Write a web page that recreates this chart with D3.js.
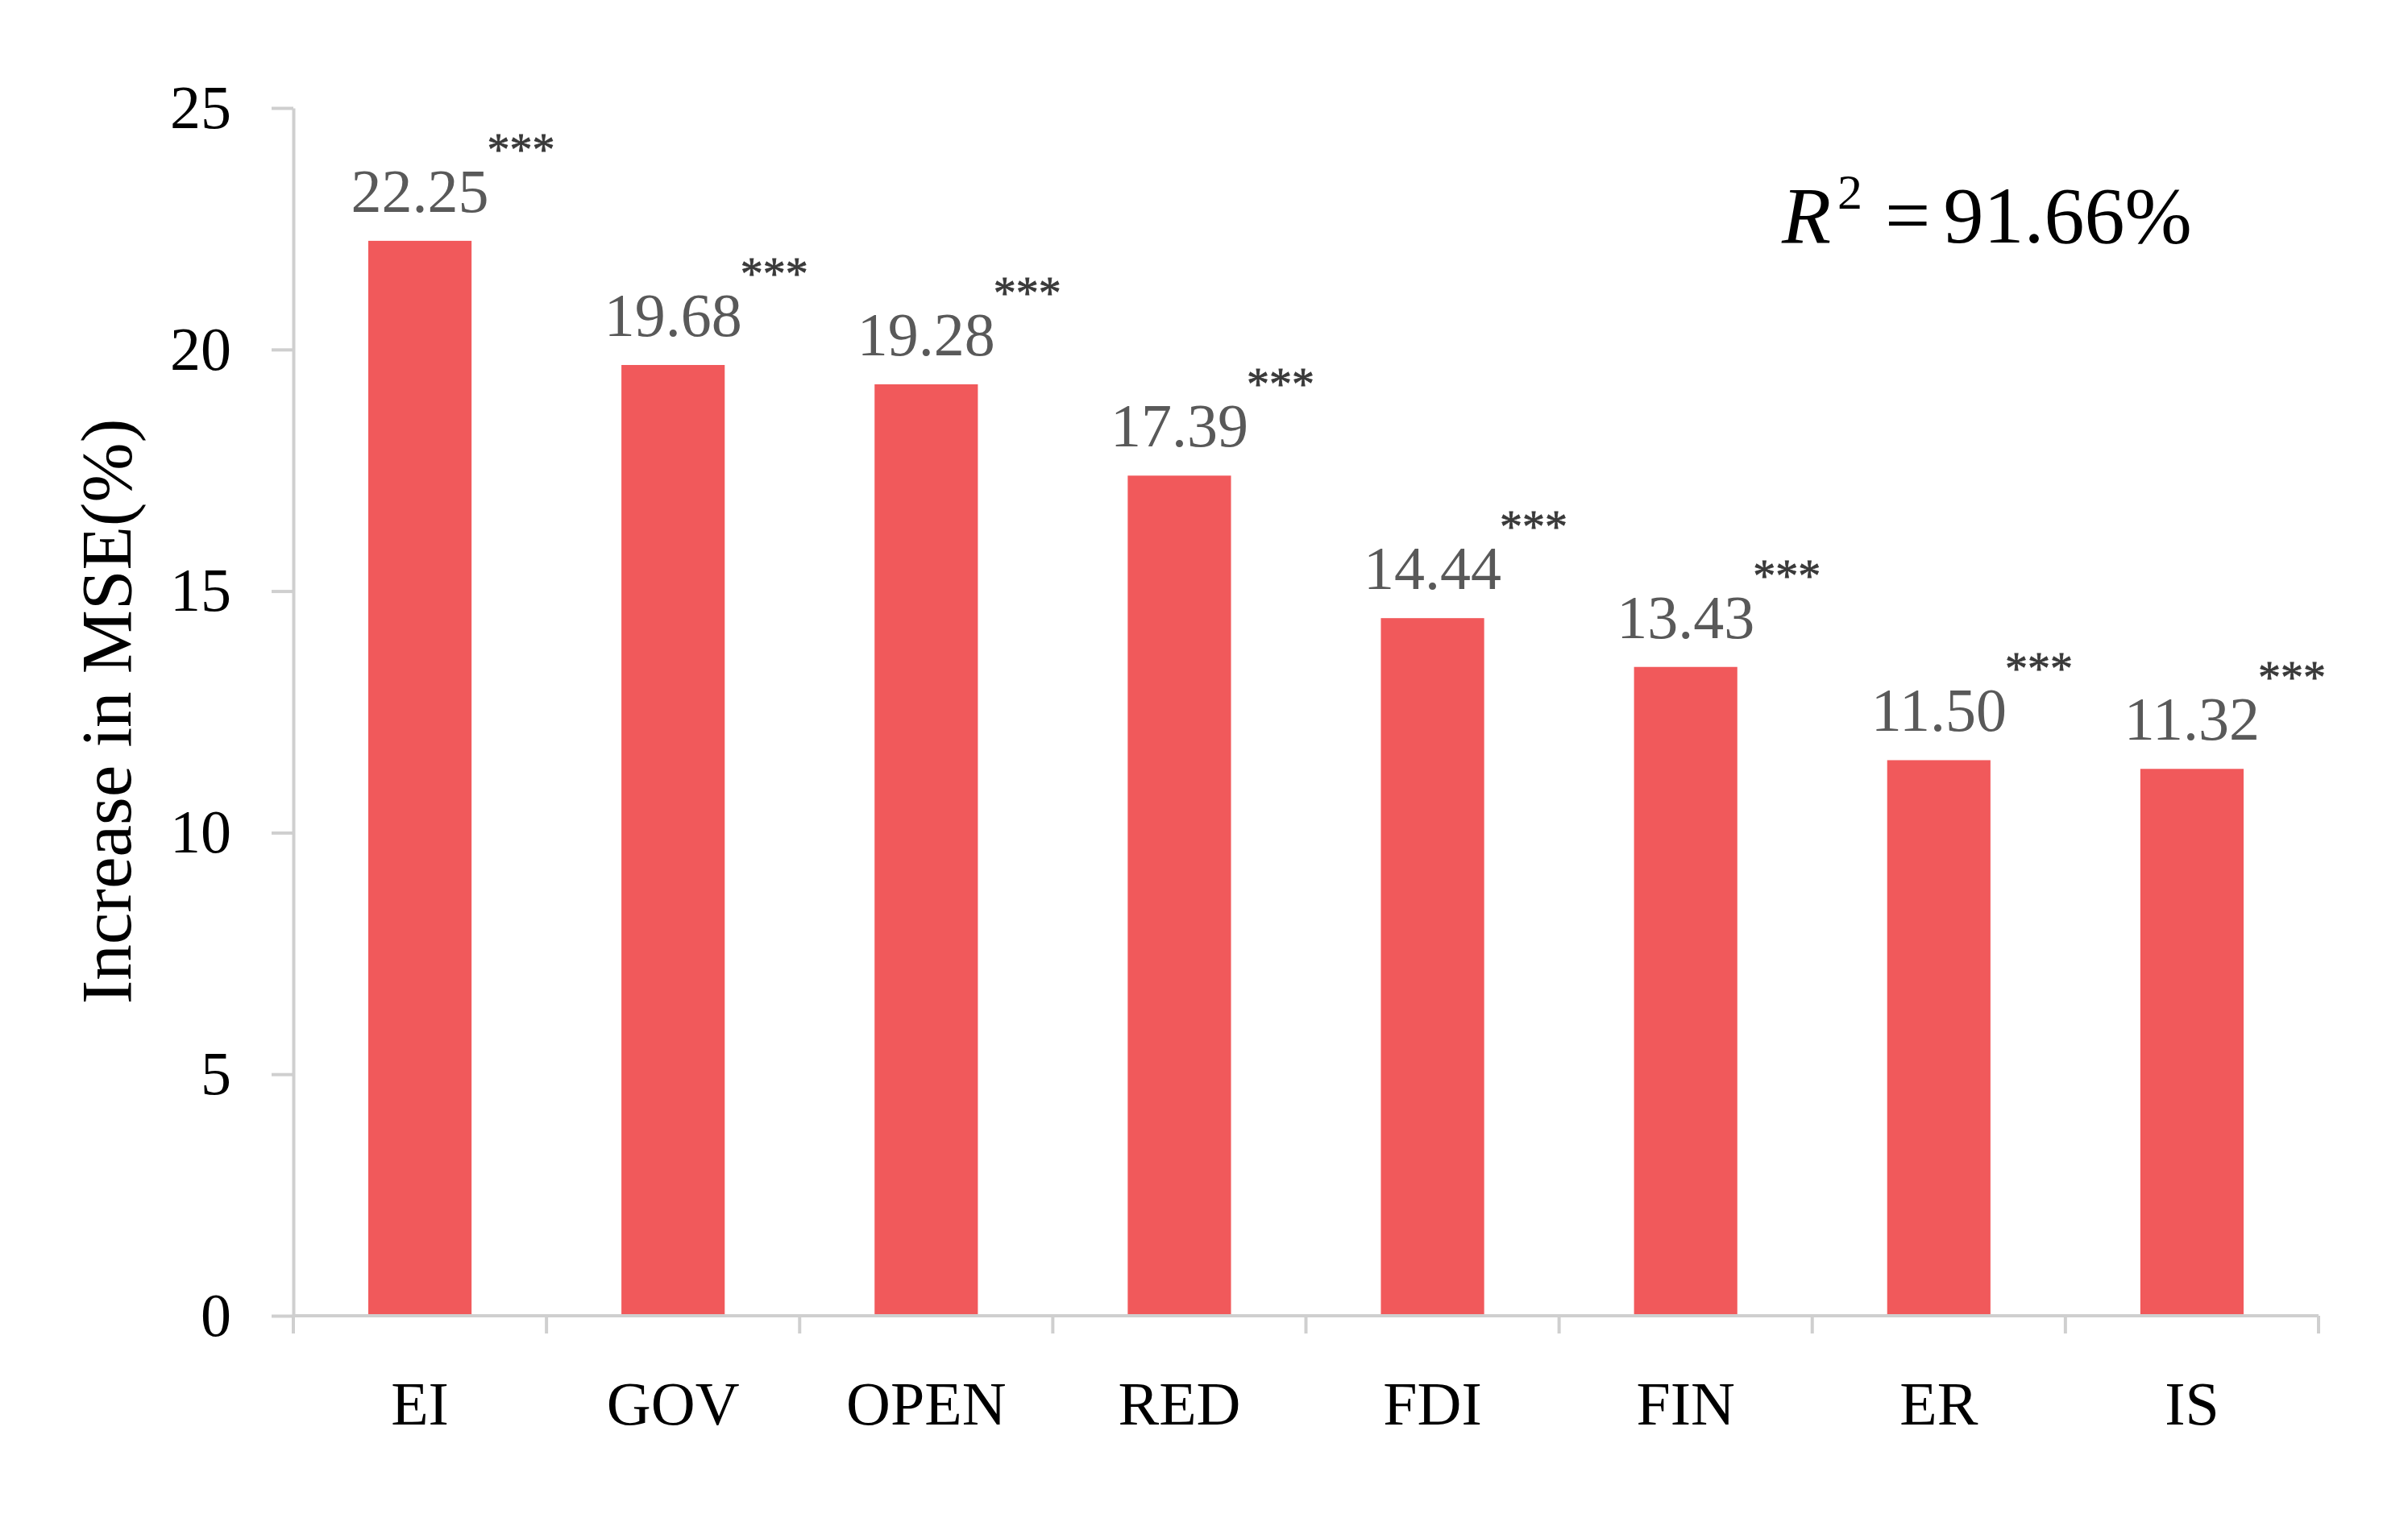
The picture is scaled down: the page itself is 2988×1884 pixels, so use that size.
<!DOCTYPE html>
<html><head><meta charset="utf-8">
<script src="https://cdn.jsdelivr.net/npm/d3@7"></script>
<style>html,body{margin:0;padding:0;background:#fff;} svg{display:block;}</style>
</head><body>
<svg id="chart" width="2988" height="1884"></svg>
<script>
// ---- data ----
const categories = ["EI", "GOV", "OPEN", "RED", "FDI", "FIN", "ER", "IS"];
const values = [22.25, 19.68, 19.28, 17.39, 14.44, 13.43, 11.50, 11.32];
const valueLabels = ["22.25", "19.68", "19.28", "17.39", "14.44", "13.43", "11.50", "11.32"];
const significance = ["***", "***", "***", "***", "***", "***", "***", "***"];
const yTicks = [0, 5, 10, 15, 20, 25];
const yTitle = "Increase in MSE(%)";
const r2Value = "91.66%";

// ---- layout ----
const W = 2988, H = 1884;
const plot = {left: 364, right: 2877, top: 134, bottom: 1633};
const FONT = "'Liberation Serif', 'Times New Roman', serif";
const barColor = "#f1595b";
const axisColor = "#cfcfcf";

const svg = d3.select("#chart");
svg.append("rect").attr("width", W).attr("height", H).attr("fill", "#fff");

const x = d3.scaleBand().domain(categories)
  .range([plot.left, plot.right]).paddingInner(0.592).paddingOuter(0.296);
const y = d3.scaleLinear().domain([0, 25]).range([plot.bottom, plot.top]);
const data = categories.map((c, i) => ({c, v: values[i], lab: valueLabels[i], sig: significance[i]}));

// bars
svg.append("g").selectAll("rect").data(data).join("rect")
  .attr("x", d => x(d.c)).attr("width", x.bandwidth())
  .attr("y", d => y(d.v)).attr("height", d => y(0) - y(d.v))
  .attr("fill", barColor);

// y axis
const yAxis = svg.append("g").attr("transform", `translate(${plot.left},0)`)
  .call(d3.axisLeft(y).tickValues(yTicks).tickSize(27).tickSizeOuter(0).tickPadding(50).tickFormat(d3.format("d")));
yAxis.select(".domain").attr("stroke", axisColor).attr("stroke-width", 4);
yAxis.selectAll(".tick line").attr("stroke", axisColor).attr("stroke-width", 4);
yAxis.selectAll(".tick text").attr("font-family", FONT).attr("font-size", 76).attr("fill", "#000");

// x axis baseline + category boundary ticks
const step = x.step();
const bounds = categories.map(c => x(c) - step * x.paddingInner() / 2).concat([plot.right]);
const xAxis = svg.append("g");
xAxis.append("line").attr("x1", plot.left).attr("x2", plot.right)
  .attr("y1", y(0)).attr("y2", y(0)).attr("stroke", axisColor).attr("stroke-width", 4);
xAxis.selectAll("line.bt").data(bounds).join("line").attr("class", "bt")
  .attr("x1", d => d).attr("x2", d => d).attr("y1", y(0)).attr("y2", y(0) + 22)
  .attr("stroke", axisColor).attr("stroke-width", 4);
xAxis.selectAll("text").data(categories).join("text")
  .attr("x", d => x(d) + x.bandwidth() / 2).attr("y", y(0) + 135)
  .attr("text-anchor", "middle").attr("font-family", FONT).attr("font-size", 76).attr("fill", "#000")
  .text(d => d);

// value labels + significance stars
const labG = svg.append("g");
data.forEach(d => {
  const cx = x(d.c) + x.bandwidth() / 2;
  const ly = y(d.v) - 36;
  const t = labG.append("text").attr("x", cx).attr("y", ly)
    .attr("text-anchor", "middle").attr("font-family", FONT).attr("font-size", 76)
    .attr("fill", "#595959").text(d.lab);
  const w = t.node().getComputedTextLength();
  labG.append("text").attr("x", cx + w / 2 - 2).attr("y", ly - 58)
    .attr("font-family", FONT).attr("font-size", 56).attr("fill", "#3a3a3a")
    .attr("stroke", "#3a3a3a").attr("stroke-width", 0.8).text(d.sig);
});

// y title
svg.append("text").attr("transform", `translate(162,883) rotate(-90)`)
  .attr("text-anchor", "middle").attr("font-family", FONT).attr("font-size", 89).attr("fill", "#000")
  .text(yTitle);

// R^2 annotation
const r2 = svg.append("text").attr("x", 2211).attr("y", 301)
  .attr("font-family", FONT).attr("font-size", 100).attr("fill", "#000");
r2.append("tspan").attr("font-style", "italic").text("R");
r2.append("tspan").attr("font-size", 62).attr("dx", 8).attr("dy", -42).text("2");
r2.append("tspan").attr("dx", 28).attr("dy", 42).text("=");
r2.append("tspan").attr("dx", 16).text(r2Value);
</script>
</body></html>
